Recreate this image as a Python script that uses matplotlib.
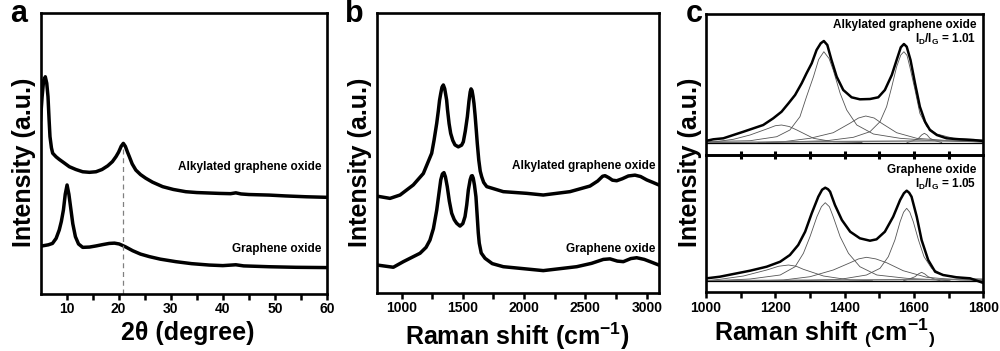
import matplotlib
matplotlib.use("Agg")
import matplotlib.pyplot as plt
from matplotlib.ticker import MultipleLocator, FixedLocator

plt.rcParams['font.family'] = ['Liberation Sans', 'DejaVu Sans']
plt.rcParams['font.weight'] = 'bold'
plt.rcParams['axes.labelweight'] = 'bold'
plt.rcParams['mathtext.fontset'] = 'custom'
plt.rcParams['mathtext.rm'] = 'Liberation Sans:bold'
plt.rcParams['mathtext.bf'] = 'Liberation Sans:bold'
plt.rcParams['mathtext.it'] = 'Liberation Sans:bold'

# ---- panel a: XRD ----
xrd_ago_x = [5.0, 5.3, 5.6, 5.92, 6.2, 6.44, 6.65, 6.82, 7.1, 7.34, 8.0, 8.6, 9.5, 10.53,
             11.8, 13.1, 14.4, 15.65, 16.8, 17.9, 18.8, 19.5, 20.0, 20.5, 20.9, 21.3, 21.7,
             22.05, 22.6, 23.3, 24.2, 25.2, 26.5, 28.45, 30.5, 32.9, 35.0, 39.3, 41.5, 42.5,
             43.5, 45.0, 48.9, 52.0, 56.0, 60.0]
xrd_ago_y = [62.0, 70.0, 76.0, 77.3, 75.0, 70.2, 62.0, 56.0, 52.0, 50.1, 48.8, 47.9, 46.7,
             45.3, 44.3, 43.5, 43.3, 43.5, 44.3, 45.6, 47.1, 48.9, 50.5, 52.6, 53.6, 52.5,
             50.5, 48.9, 46.3, 44.1, 42.5, 41.2, 39.8, 38.2, 37.2, 36.4, 36.1, 35.8, 35.7,
             36.0, 35.6, 35.4, 35.2, 34.9, 34.6, 34.4]
xrd_go_x = [5.3, 6.5, 7.3, 8.0, 8.6, 9.0, 9.4, 9.75, 10.1, 10.45, 10.85, 11.2, 11.7, 12.3,
            13.1, 14.4, 15.65, 17.0, 18.2, 19.2, 20.1, 21.3, 22.7, 24.2, 25.9, 28.0, 31.0,
            34.0, 37.4, 40.0, 42.5, 44.0, 48.9, 54.0, 60.0]
xrd_go_y = [17.1, 17.5, 18.0, 19.8, 22.8, 25.8, 29.9, 35.5, 38.8, 35.5, 29.9, 25.0, 20.4,
            17.8, 16.6, 16.7, 17.1, 17.6, 18.0, 18.1, 17.8, 16.8, 15.4, 14.2, 13.3, 12.4,
            11.5, 10.8, 10.3, 10.1, 10.4, 10.0, 9.7, 9.5, 9.4]

# ---- panel b: Raman full range ----
ram_ago_x = [800, 906, 988, 1096, 1178, 1246, 1265, 1287, 1300, 1310, 1320, 1330, 1341,
             1352, 1360, 1368, 1375, 1388, 1401, 1418, 1436, 1463, 1490, 1504, 1520, 1537,
             1550, 1560, 1567, 1575, 1583, 1591, 1600, 1610, 1618, 1630, 1642, 1654, 1670,
             1695, 1830, 2021, 2156, 2374, 2537, 2600, 2640, 2660, 2690, 2720, 2755, 2800,
             2850, 2904, 2950, 3000, 3050, 3098]
ram_ago_y = [34.6, 33.8, 35.0, 38.6, 42.7, 49.9, 54.5, 60.6, 65.0, 68.8, 71.3, 73.5, 74.3,
             73.0, 71.0, 68.9, 65.5, 60.5, 57.0, 54.5, 52.9, 52.2, 52.8, 54.0, 57.8, 63.0,
             68.5, 71.8, 72.9, 72.3, 70.3, 67.7, 63.5, 58.0, 53.4, 47.5, 43.5, 41.5, 39.5,
             38.0, 36.2, 35.6, 35.0, 36.2, 38.2, 40.0, 41.7, 41.9, 41.2, 40.3, 40.1, 40.8,
             41.8, 42.1, 41.6, 40.4, 39.5, 38.6]
ram_go_x = [800, 933, 1015, 1151, 1200, 1232, 1260, 1287, 1305, 1320, 1333, 1346, 1358,
            1373, 1390, 1409, 1430, 1450, 1477, 1500, 1518, 1532, 1545, 1560, 1570, 1577,
            1585, 1595, 1607, 1618, 1626, 1634, 1650, 1681, 1740, 1830, 2156, 2429, 2550,
            2646, 2700, 2760, 2809, 2870, 2918, 2980, 3040, 3098]
ram_go_y = [10.0, 9.2, 11.2, 14.2, 16.3, 18.9, 23.0, 29.6, 35.5, 40.4, 42.5, 43.0, 41.5,
            38.0, 32.8, 28.5, 26.2, 24.9, 23.9, 24.8, 27.3, 31.5, 36.8, 40.5, 41.8, 41.9,
            41.0, 38.5, 34.4, 27.0, 21.5, 17.8, 14.3, 12.4, 10.5, 9.4, 8.0, 9.4, 10.6,
            12.0, 12.2, 11.4, 11.2, 12.3, 12.6, 12.0, 11.0, 10.0]

# ---- panel c: fitted D/G region, alkylated GO ----
fit_ago_x = [1002, 1021, 1050, 1079, 1108, 1137, 1165, 1194, 1218, 1238, 1257, 1276, 1290,
             1305, 1319, 1331, 1340, 1350, 1362, 1377, 1396, 1420, 1444, 1473, 1497, 1516,
             1536, 1550, 1562, 1571, 1579, 1590, 1603, 1617, 1632, 1646, 1666, 1694, 1733,
             1771, 1798]
fit_ago_y = [1.8, 3.2, 4.2, 7.5, 10.8, 14.2, 17.5, 24.2, 30.8, 39.2, 47.5, 59.2, 69.2,
             79.2, 92.5, 99.2, 101.5, 97.5, 82.5, 65.8, 52.5, 45.2, 43.2, 43.5, 45.2, 52.5,
             67.5, 82.5, 95.2, 98.5, 95.8, 82.5, 59.2, 35.8, 20.8, 12.5, 7.5, 4.2, 3.2,
             2.5, 1.5]
ago_d_x = [1000, 1127, 1204, 1242, 1271, 1290, 1310, 1325, 1340, 1355, 1367, 1387, 1406,
           1435, 1483, 1560, 1656, 1800]
ago_d_y = [1.0, 1.8, 5.8, 12.5, 25.8, 45.8, 65.8, 83.0, 90.8, 84.0, 72.5, 49.2, 32.5,
           17.5, 8.5, 4.2, 1.8, 0.5]
ago_g_x = [1175, 1348, 1425, 1473, 1502, 1521, 1536, 1550, 1562, 1571, 1580, 1588, 1603,
           1617, 1637, 1666, 1714, 1798]
ago_g_y = [0.0, 1.8, 5.2, 10.8, 20.8, 35.8, 55.8, 75.8, 87.5, 90.8, 87.0, 75.8, 52.5,
           29.2, 15.8, 8.5, 4.2, 2.5]
ago_d4_x = [1000, 1021, 1079, 1127, 1175, 1200, 1218, 1240, 1262, 1310, 1367, 1450]
ago_d4_y = [0.0, 0.5, 3.2, 7.5, 13.5, 16.8, 17.5, 16.0, 12.5, 4.2, 0.8, 0.0]
ago_d3_x = [1150, 1223, 1300, 1367, 1415, 1440, 1461, 1485, 1507, 1550, 1608, 1704, 1800]
ago_d3_y = [0.0, 0.8, 4.2, 9.8, 19.2, 24.5, 26.5, 24.5, 19.2, 9.8, 4.2, 1.8, 0.5]
ago_dp_x = [1580, 1598, 1613, 1622, 1630, 1638, 1646, 1661, 1680]
ago_dp_y = [0.0, 1.8, 4.2, 7.5, 9.2, 7.5, 4.2, 1.8, 0.0]

# ---- panel c: fitted D/G region, GO ----
fit_go_x = [1002, 1040, 1079, 1127, 1175, 1214, 1242, 1266, 1286, 1305, 1324, 1335, 1344,
            1352, 1358, 1372, 1392, 1416, 1444, 1473, 1492, 1516, 1540, 1560, 1571, 1579,
            1586, 1593, 1608, 1622, 1641, 1661, 1684, 1723, 1762, 1798]
fit_go_y = [2.4, 4.0, 6.7, 10.0, 14.0, 19.0, 25.7, 35.7, 49.0, 67.4, 84.0, 91.0, 93.0,
            91.5, 89.0, 75.7, 60.7, 49.0, 42.4, 40.0, 41.4, 49.0, 64.0, 80.7, 87.5, 90.0,
            88.0, 84.0, 64.0, 40.7, 20.7, 9.0, 5.7, 3.4, 2.4, -2.0]
go_d_x = [1021, 1127, 1214, 1257, 1281, 1300, 1320, 1333, 1344, 1356, 1367, 1387, 1411,
          1444, 1493, 1579, 1704]
go_d_y = [0.0, 1.7, 5.7, 14.0, 27.4, 44.0, 64.0, 74.0, 78.0, 74.0, 64.0, 44.0, 27.4,
          14.0, 5.7, 2.4, 0.0]
go_g_x = [1271, 1387, 1463, 1502, 1526, 1545, 1560, 1570, 1579, 1588, 1598, 1613, 1629,
          1651, 1685, 1752, 1798]
go_g_y = [0.0, 1.4, 5.7, 12.4, 24.0, 40.7, 59.0, 68.5, 72.4, 68.5, 59.0, 40.7, 24.0,
          12.4, 5.7, 2.4, 1.4]
go_d4_x = [1000, 1040, 1108, 1175, 1210, 1238, 1260, 1281, 1339, 1416, 1480]
go_d4_y = [0.0, 1.4, 4.7, 10.7, 14.5, 15.7, 14.5, 11.4, 4.7, 0.7, 0.0]
go_d3_x = [1150, 1223, 1300, 1367, 1416, 1440, 1463, 1490, 1521, 1569, 1637, 1733, 1800]
go_d3_y = [0.0, 0.7, 4.0, 10.7, 18.0, 21.8, 23.4, 21.8, 18.0, 10.0, 3.4, 0.7, 0.2]
go_dp_x = [1570, 1584, 1603, 1613, 1622, 1631, 1641, 1661, 1675]
go_dp_y = [0.0, 1.4, 4.0, 6.8, 8.4, 6.8, 4.0, 1.4, 0.0]

base_x = [1000, 1800]
ago_base_y = [0.0, 2.0]
go_base_y = [0.0, 1.5]

fig = plt.figure(figsize=(10, 3.51), dpi=100)

spine_w = 1.9
thick = 2.5
comp_kw = dict(color='#555555', lw=0.6)

def style(ax):
    for s in ax.spines.values():
        s.set_linewidth(spine_w)
    ax.set_yticks([])
    ax.tick_params(axis='x', direction='out', length=4, width=1.8, labelsize=10, pad=2)

# panel a
ax1 = fig.add_axes([0.0405, 0.1624, 0.2865, 0.8006])
ax1.plot(xrd_ago_x, xrd_ago_y, color='black', lw=thick)
ax1.plot(xrd_go_x, xrd_go_y, color='black', lw=thick)
ax1.plot([20.9, 20.9], [0, 52], color='gray', lw=0.9, ls=(0, (4, 3)))
ax1.set_xlim(5, 60)
ax1.set_ylim(0, 100)
ax1.xaxis.set_major_locator(FixedLocator([10, 20, 30, 40, 50, 60]))
ax1.xaxis.set_minor_locator(FixedLocator([15, 25, 35, 45, 55]))
style(ax1)
ax1.tick_params(axis='x', which='minor', direction='out', length=4, width=1.8)
ax1.text(59.0, 45.3, 'Alkylated graphene oxide', ha='right', va='center', fontsize=8.5)
ax1.text(59.0, 16.0, 'Graphene oxide', ha='right', va='center', fontsize=8.5)

# panel b
ax2 = fig.add_axes([0.377, 0.1652, 0.282, 0.7977])
ax2.plot(ram_ago_x, ram_ago_y, color='black', lw=thick)
ax2.plot(ram_go_x, ram_go_y, color='black', lw=thick)
ax2.set_xlim(800, 3100)
ax2.set_ylim(0, 100)
ax2.xaxis.set_major_locator(MultipleLocator(500))
ax2.xaxis.set_minor_locator(MultipleLocator(250))
style(ax2)
ax2.tick_params(axis='x', which='minor', direction='out', length=4, width=1.8)
ax2.text(3073, 45.4, 'Alkylated graphene oxide', ha='right', va='center', fontsize=8.5)
ax2.text(3073, 15.7, 'Graphene oxide', ha='right', va='center', fontsize=8.5)

# panel c
ax4 = fig.add_axes([0.706, 0.1672, 0.2773, 0.3926])
ax3 = fig.add_axes([0.706, 0.5598, 0.2773, 0.4003])
ax3.patch.set_alpha(0)

ax3.plot(ago_d_x, ago_d_y, **comp_kw)
ax3.plot(ago_g_x, ago_g_y, **comp_kw)
ax3.plot(ago_d4_x, ago_d4_y, **comp_kw)
ax3.plot(ago_d3_x, ago_d3_y, **comp_kw)
ax3.plot(ago_dp_x, ago_dp_y, **comp_kw)
ax3.plot(base_x, ago_base_y, color='#777777', lw=1.0)
ax3.axhline(0, color='black', lw=0.9)
ax3.plot(fit_ago_x, fit_ago_y, color='black', lw=1.8)
ax3.set_xlim(1000, 1800)
ax3.set_ylim(-12, 128.5)
for s in ax3.spines.values():
    s.set_linewidth(spine_w)
ax3.set_yticks([])
ax3.set_xticks([1100, 1200, 1300, 1400, 1500, 1600, 1700])
ax3.tick_params(axis='x', direction='inout', length=6, width=2.2, labelbottom=False)
ax3.text(0.974, 0.922, 'Alkylated graphene oxide', transform=ax3.transAxes,
         ha='right', va='center', fontsize=8.5)
ax3.text(0.974, 0.82, r'$\mathbf{I_D/I_G}$ = 1.01', transform=ax3.transAxes,
         ha='right', va='center', fontsize=8.5)

ax4.plot(go_d_x, go_d_y, **comp_kw)
ax4.plot(go_g_x, go_g_y, **comp_kw)
ax4.plot(go_d4_x, go_d4_y, **comp_kw)
ax4.plot(go_d3_x, go_d3_y, **comp_kw)
ax4.plot(go_dp_x, go_dp_y, **comp_kw)
ax4.plot(base_x, go_base_y, color='#777777', lw=1.0)
ax4.axhline(0, color='black', lw=0.9)
ax4.plot(fit_go_x, fit_go_y, color='black', lw=1.8)
ax4.set_xlim(1000, 1800)
ax4.set_ylim(-11.6, 126.2)
ax4.xaxis.set_major_locator(MultipleLocator(200))
ax4.xaxis.set_minor_locator(MultipleLocator(100))
style(ax4)
ax4.tick_params(axis='x', which='minor', direction='out', length=4, width=1.8)
ax4.text(0.974, 0.888, 'Graphene oxide', transform=ax4.transAxes,
         ha='right', va='center', fontsize=8.5)
ax4.text(0.974, 0.784, r'$\mathbf{I_D/I_G}$ = 1.05', transform=ax4.transAxes,
         ha='right', va='center', fontsize=8.5)

# axis titles
ylab_kw = dict(rotation=90, ha='center', va='center', fontsize=18, fontweight='bold')
fig.text(0.024, 0.538, 'Intensity (a.u.)', **ylab_kw)
fig.text(0.360, 0.538, 'Intensity (a.u.)', **ylab_kw)
fig.text(0.690, 0.538, 'Intensity (a.u.)', **ylab_kw)

xlab_kw = dict(ha='center', va='center', fontsize=18, fontweight='bold')
fig.text(0.188, 0.05, '2\u03b8 (degree)', **xlab_kw)
fig.text(0.517, 0.043, r'Raman shift (cm$^{\mathbf{-1}}$)', **xlab_kw)
fig.text(0.825, 0.05, r'Raman shift $_{\mathbf{(}}$cm$^{\mathbf{-1}}$$_{\mathbf{)}}$', **xlab_kw)

# panel letters
fig.text(0.010, 1 - 22 / 351, 'a', fontsize=22, fontweight='bold', va='baseline')
fig.text(0.345, 1 - 22 / 351, 'b', fontsize=22, fontweight='bold', va='baseline')
fig.text(0.686, 1 - 22 / 351, 'c', fontsize=22, fontweight='bold', va='baseline')

fig.savefig('out.png', dpi=100)
